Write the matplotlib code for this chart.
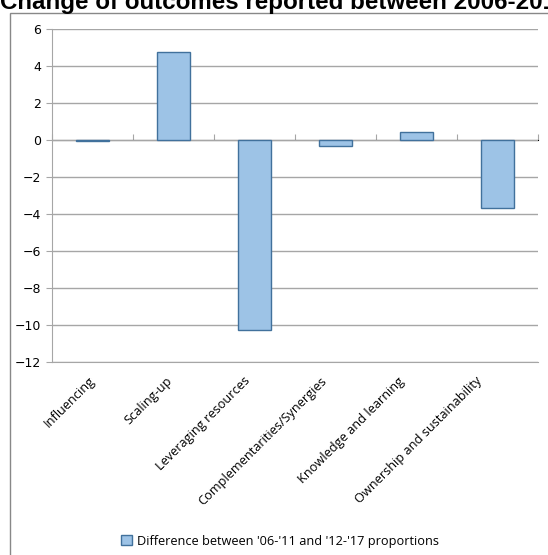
import matplotlib
matplotlib.use('Agg')
import matplotlib.pyplot as plt
from matplotlib.patches import Rectangle
from matplotlib.transforms import ScaledTranslation

# data
categories = ['Influencing', 'Scaling-up', 'Leveraging resources',
              'Complementarities/Synergies', 'Knowledge and learning',
              'Ownership and sustainability']
difference = [-0.07, 4.76, -10.25, -0.33, 0.45, -3.65]
y_ticks = [6, 4, 2, 0, -2, -4, -6, -8, -10, -12]

fig = plt.figure(figsize=(5.48, 5.55), dpi=100)
W, H = 548, 555
ax = fig.add_axes([52 / W, 1 - 362 / H, (538 - 52) / W, (362 - 29) / H])

grid_col = '#A6A6A6'
x = list(range(len(categories)))
ax.bar(x, difference, width=0.41, color='#9DC3E6', edgecolor='#41719C',
       linewidth=1.0, zorder=3, label="Difference between '06-'11 and '12-'17 proportions")

ax.set_xlim(-0.5, len(categories) - 0.5)
ax.set_ylim(-12, 6)
ax.set_yticks(y_ticks)
ax.yaxis.grid(True, color=grid_col, linewidth=1.0, zorder=0)
ax.tick_params(axis='y', length=4, color=grid_col, labelsize=9, pad=4)
for s in ['top', 'right']:
    ax.spines[s].set_visible(False)
ax.spines['left'].set_color(grid_col)
ax.spines['bottom'].set_color(grid_col)

ax.set_xticks(x)
ax.set_xticklabels(categories, rotation=45, ha='right', rotation_mode='anchor',
                   fontsize=9.2, family='Open Sans')
ax.tick_params(axis='x', length=0, pad=9)
# excel squeezes the rotated labels slightly to the left
for i, lab in enumerate(ax.get_xticklabels()):
    lab.set_transform(lab.get_transform() +
                      ScaledTranslation(-(4 + 3.6 * i) / 100, 0, fig.dpi_scale_trans))

# category boundary ticks on the zero line
sec = ax.secondary_xaxis(12 / 18)
sec.set_xticks([i - 0.5 for i in range(len(categories) + 1)])
sec.set_xticklabels([])
sec.tick_params(axis='x', length=4, color=grid_col)
sec.spines['bottom'].set_color(grid_col)

# outer chart border
fig.patches.append(Rectangle((10 / W, -0.01), 1.0, 1 - 12.5 / H + 0.01,
                             transform=fig.transFigure, fill=False,
                             edgecolor='#888888', linewidth=1.0))

# title is cropped at the top and right in the original
fig.text(0.0, 1 - 9 / H, 'Change of outcomes reported between 2006-2011 and 2012-2017',
         fontsize=17.4, fontweight='bold', family='Liberation Sans',
         ha='left', va='baseline')

fig.legend(loc='center', bbox_to_anchor=(0.511, 1 - 541 / H), frameon=False,
           prop={'family': 'Open Sans', 'size': 9.2},
           handlelength=0.8, handleheight=0.8, handletextpad=0.4)

fig.savefig('out.png', dpi=100)
